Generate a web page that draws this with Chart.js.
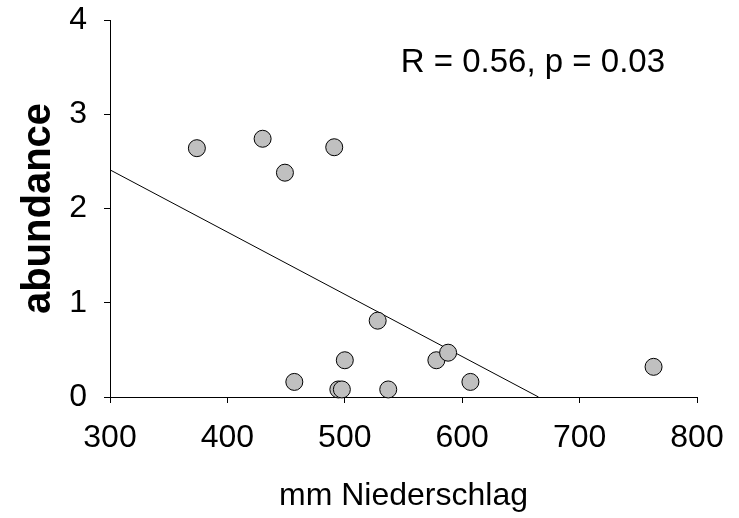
<!DOCTYPE html>
<html>
<head>
<meta charset="utf-8">
<script src="https://cdn.jsdelivr.net/npm/chart.js@4"></script>
<style>
  html, body { margin: 0; padding: 0; background: #fff; }
  #wrap { width: 739px; height: 518px; position: relative; }
</style>
</head>
<body>
<div id="wrap"><canvas id="chart_abundance"></canvas></div>
<script>
// values
var niederschlag = [374, 430, 449, 491, 528, 500, 457, 494.5, 497.5, 537, 578, 588, 607, 763];
var abundance    = [2.64, 2.74, 2.38, 2.65, 0.81, 0.39, 0.16, 0.08, 0.08, 0.08, 0.39, 0.47, 0.16, 0.32];
var trendX = [300, 665];
var trendY = [2.41, 0];
var statText = 'R = 0.56, p = 0.03';

var points = niederschlag.map(function (x, i) { return { x: x, y: abundance[i] }; });
var trend = trendX.map(function (x, i) { return { x: x, y: trendY[i] }; });

var fontFamily = '"Liberation Sans", Arial, sans-serif';

var chart_abundance = new Chart(document.getElementById('chart_abundance'), {
    type: 'scatter',
    data: {
        datasets: [
            {
                label: 'abundance',
                data: points,
                pointRadius: 8.5,
                pointBackgroundColor: '#c0c0c0',
                pointBorderColor: '#000',
                pointBorderWidth: 1,
                clip: false
            },
            {
                label: 'trend',
                data: trend,
                showLine: true,
                borderColor: '#000',
                borderWidth: 1,
                pointRadius: 0,
                clip: false
            }
        ]
    },
    options: {
        animation: false,
        responsive: true,
        maintainAspectRatio: false,
        events: [],
        layout: {
            padding: { top: 20, right: 42, left: 0, bottom: 0 }
        },
        plugins: {
            legend: { display: false },
            tooltip: { enabled: false }
        },
        scales: {
            x: {
                type: 'linear',
                min: 300,
                max: 800,
                afterFit: function (scale) {
                    scale.height = 121;
                    scale.paddingLeft = 0;
                    scale.paddingRight = 0;
                },
                border: { color: '#000', width: 1 },
                grid: {
                    drawOnChartArea: false,
                    color: '#000',
                    tickLength: 6
                },
                ticks: {
                    stepSize: 100,
                    color: '#000',
                    padding: 16,
                    maxRotation: 0,
                    font: { family: fontFamily, size: 32 }
                },
                title: {
                    display: true,
                    text: 'mm Niederschlag',
                    color: '#000',
                    padding: { top: 0, bottom: 3 },
                    font: { family: fontFamily, size: 32 }
                }
            },
            y: {
                type: 'linear',
                min: 0,
                max: 4,
                afterFit: function (scale) {
                    scale.width = 110;
                    scale.paddingTop = 0;
                    scale.paddingBottom = 0;
                },
                border: { color: '#000', width: 1 },
                grid: {
                    drawOnChartArea: false,
                    color: '#000',
                    tickLength: 6
                },
                ticks: {
                    stepSize: 1,
                    color: '#000',
                    padding: 17,
                    font: { family: fontFamily, size: 32 }
                },
                title: {
                    display: true,
                    text: 'abundance',
                    color: '#000',
                    padding: { top: 15, bottom: 0 },
                    font: { family: fontFamily, size: 40, weight: 'bold' }
                }
            }
        }
    },
    plugins: [{
        id: 'statLabel',
        afterDraw: function (chart) {
            var ctx = chart.ctx;
            var area = chart.chartArea;
            ctx.save();
            ctx.fillStyle = '#000';
            ctx.font = '33px ' + fontFamily;
            ctx.textAlign = 'right';
            ctx.textBaseline = 'alphabetic';
            ctx.fillText(statText, area.right - 32, area.top + 52);
            ctx.restore();
        }
    }, {
        id: 'whiteBg',
        beforeDraw: function (chart) {
            var ctx = chart.ctx;
            ctx.save();
            ctx.fillStyle = 'white';
            ctx.fillRect(0, 0, chart.width, chart.height);
            ctx.restore();
        }
    }]
});
</script>
</body>
</html>
